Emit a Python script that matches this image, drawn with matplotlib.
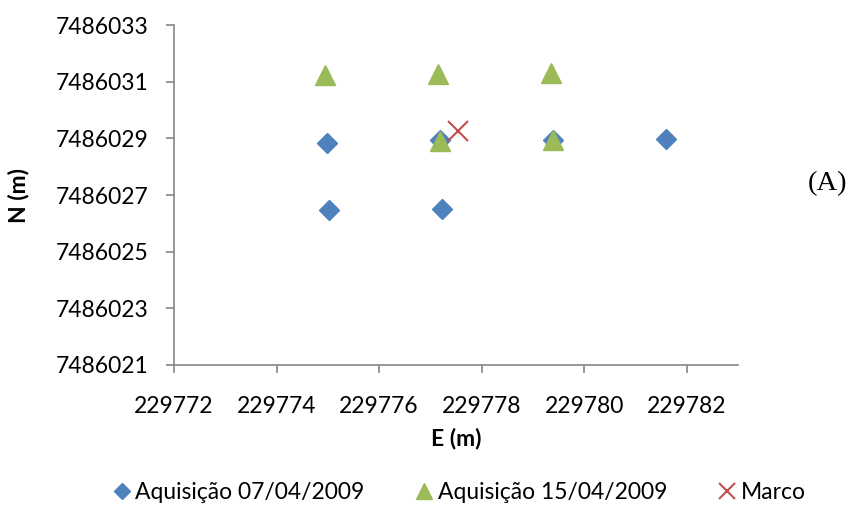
import matplotlib
matplotlib.use("Agg")
import matplotlib.pyplot as plt
import matplotlib.ticker as mticker

plt.rcParams['font.family'] = ['Lato', 'DejaVu Sans']

# --- Data ---
e_0704 = [229774.99, 229775.02, 229777.19, 229777.22, 229779.39, 229781.59]
n_0704 = [7486028.85, 7486026.48, 7486028.94, 7486026.52, 7486028.94, 7486028.97]

e_1504 = [229774.94, 229777.15, 229779.36, 229777.19, 229779.39]
n_1504 = [7486031.23, 7486031.26, 7486031.30, 7486028.90, 7486028.93]

e_marco = [229777.53]
n_marco = [7486029.27]

x_ticks = [229772, 229774, 229776, 229778, 229780, 229782]
y_ticks = [7486021, 7486023, 7486025, 7486027, 7486029, 7486031, 7486033]

blue = '#4F81BD'
green = '#9BBB59'
red = '#C0504D'
grey = '#868686'
fs = 16.5

fig = plt.figure(figsize=(8.5, 5.22), dpi=100)
ax = fig.add_axes([0.2047, 0.3008, 0.6635, 0.6512])

ax.plot(e_0704, n_0704, linestyle='none', marker='D', markersize=10.5,
        color=blue, label='Aquisição 07/04/2009')
ax.plot(e_1504, n_1504, linestyle='none', marker='^', markersize=15,
        color=green, label='Aquisição 15/04/2009')
ax.plot(e_marco, n_marco, linestyle='none', marker='x', markersize=14,
        markeredgewidth=1.5, color=red, label='Marco')

ax.set_xlim(229772, 229783)
ax.set_ylim(7486021, 7486033)
ax.set_xticks(x_ticks)
ax.set_yticks(y_ticks)
ax.xaxis.set_major_formatter(mticker.FormatStrFormatter('%d'))
ax.yaxis.set_major_formatter(mticker.FormatStrFormatter('%d'))

for s in ['top', 'right']:
    ax.spines[s].set_visible(False)
for s in ['left', 'bottom']:
    ax.spines[s].set_color(grey)
    ax.spines[s].set_linewidth(1.2)
ax.tick_params(axis='both', colors=grey, labelcolor='black', labelsize=fs,
               length=6, width=1.2, direction='out')
ax.tick_params(axis='y', pad=12)
ax.tick_params(axis='x', pad=16)

ax.set_xlabel('E (m)', fontsize=fs, fontweight='bold', labelpad=8)
ax.set_ylabel('N (m)', fontsize=fs, fontweight='bold', labelpad=19)

fig.text(0.974, 0.6475, '(A)', fontsize=20.5, family='Liberation Serif',
         ha='center', va='center')

fig.legend(loc='center', bbox_to_anchor=(0.54, 0.057), ncol=3, frameon=False,
           fontsize=fs, handlelength=0.8, handletextpad=0.2, columnspacing=2.2,
           markerscale=0.8)

fig.savefig('out.png', dpi=100)
